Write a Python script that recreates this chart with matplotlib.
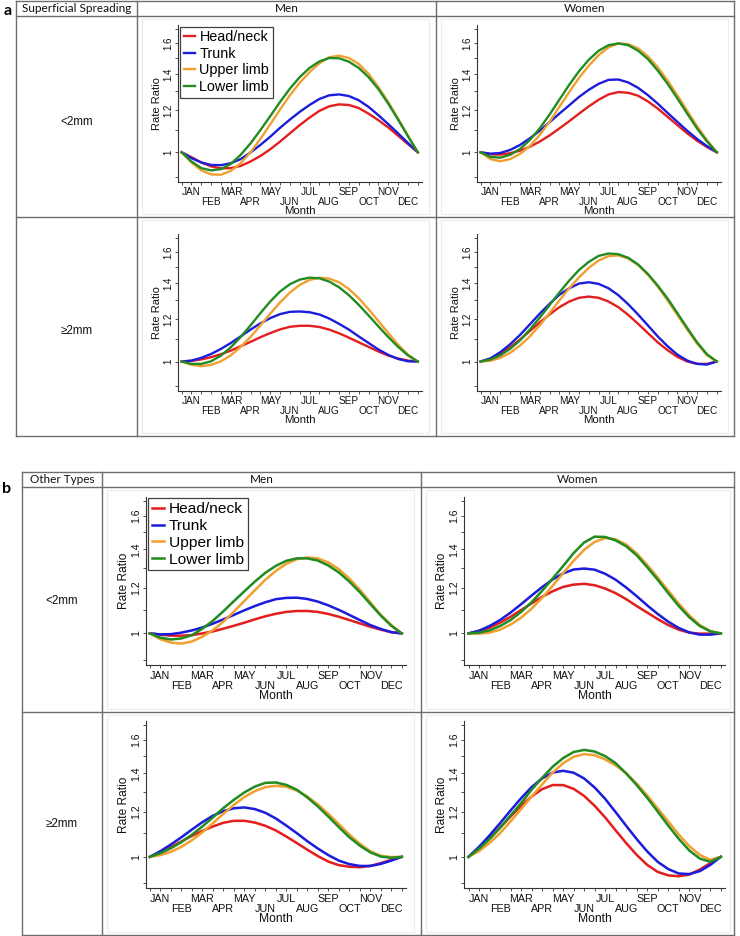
import numpy as np
import matplotlib
matplotlib.use("Agg")
import matplotlib.pyplot as plt
from matplotlib.lines import Line2D
from matplotlib.patches import Rectangle
from matplotlib.ticker import FixedLocator, FixedFormatter, NullFormatter

W, H = 740, 936

MONTHS = ["JAN", "FEB", "MAR", "APR", "MAY", "JUN",
          "JUL", "AUG", "SEP", "OCT", "NOV", "DEC"]
SITES = ["Head/neck", "Trunk", "Upper limb", "Lower limb"]
COLORS = ["#e41e1e", "#1c1cdc", "#f0a030", "#228b22"]

# values read every half month, Jan 1 -> Dec 31
MONTH_POS = np.arange(0, 12.01, 0.5)

# (a) superficial spreading, <2mm, men   rows: head/neck, trunk, upper limb, lower limb
A_LT2_MEN = [
    [1.000, 0.979, 0.957, 0.941, 0.933, 0.934, 0.943, 0.961, 0.984, 1.013, 1.047, 1.085, 1.124,
     1.161, 1.195, 1.219, 1.229, 1.226, 1.210, 1.181, 1.148, 1.113, 1.074, 1.036, 1.000],
    [1.000, 0.975, 0.957, 0.947, 0.946, 0.954, 0.971, 0.999, 1.032, 1.069, 1.111, 1.151, 1.190,
     1.226, 1.258, 1.278, 1.283, 1.274, 1.251, 1.216, 1.173, 1.129, 1.085, 1.041, 1.000],
    [1.000, 0.957, 0.925, 0.909, 0.908, 0.923, 0.954, 1.000, 1.059, 1.127, 1.202, 1.278, 1.349,
     1.412, 1.467, 1.505, 1.516, 1.501, 1.463, 1.402, 1.324, 1.242, 1.156, 1.074, 1.000],
    [1.000, 0.961, 0.934, 0.925, 0.930, 0.951, 0.989, 1.039, 1.100, 1.168, 1.242, 1.315, 1.382,
     1.438, 1.479, 1.501, 1.499, 1.477, 1.438, 1.382, 1.313, 1.233, 1.151, 1.072, 1.000],
]
A_LT2_WOMEN = [
    [1.000, 0.991, 0.990, 0.996, 1.007, 1.024, 1.047, 1.075, 1.108, 1.143, 1.181, 1.219, 1.254,
     1.283, 1.296, 1.292, 1.276, 1.245, 1.207, 1.165, 1.124, 1.085, 1.051, 1.023, 1.000],
    [1.000, 0.994, 0.997, 1.010, 1.032, 1.062, 1.097, 1.138, 1.181, 1.224, 1.269, 1.309, 1.343,
     1.366, 1.368, 1.351, 1.320, 1.279, 1.233, 1.185, 1.140, 1.097, 1.059, 1.027, 1.000],
    [1.000, 0.971, 0.962, 0.971, 0.993, 1.027, 1.077, 1.140, 1.216, 1.296, 1.378, 1.452, 1.520,
     1.571, 1.598, 1.593, 1.564, 1.512, 1.442, 1.362, 1.278, 1.195, 1.119, 1.054, 1.000],
    [1.000, 0.980, 0.977, 0.989, 1.014, 1.054, 1.108, 1.176, 1.254, 1.337, 1.418, 1.490, 1.549,
     1.586, 1.598, 1.586, 1.549, 1.494, 1.422, 1.343, 1.261, 1.181, 1.108, 1.048, 1.000],
]
A_GE2_MEN = [
    [1.000, 1.003, 1.009, 1.019, 1.032, 1.048, 1.068, 1.088, 1.110, 1.130, 1.148, 1.161, 1.166,
     1.166, 1.160, 1.147, 1.129, 1.108, 1.086, 1.065, 1.044, 1.026, 1.013, 1.004, 1.000],
    [1.000, 1.004, 1.016, 1.033, 1.056, 1.083, 1.114, 1.147, 1.178, 1.205, 1.226, 1.238, 1.240,
     1.236, 1.224, 1.203, 1.176, 1.147, 1.114, 1.083, 1.053, 1.029, 1.011, 1.001, 1.000],
    [1.000, 0.986, 0.980, 0.986, 1.001, 1.027, 1.065, 1.111, 1.168, 1.228, 1.289, 1.345, 1.390,
     1.420, 1.434, 1.428, 1.406, 1.366, 1.313, 1.252, 1.190, 1.130, 1.075, 1.030, 1.000],
    [1.000, 0.990, 0.990, 1.001, 1.026, 1.063, 1.111, 1.168, 1.231, 1.294, 1.351, 1.394, 1.422,
     1.434, 1.430, 1.410, 1.376, 1.330, 1.276, 1.219, 1.163, 1.111, 1.065, 1.027, 1.000],
]
A_GE2_WOMEN = [
    [1.000, 1.011, 1.033, 1.063, 1.099, 1.140, 1.183, 1.224, 1.263, 1.294, 1.315, 1.322, 1.315,
     1.294, 1.263, 1.222, 1.176, 1.130, 1.086, 1.050, 1.020, 1.000, 0.990, 0.990, 1.000],
    [1.000, 1.014, 1.041, 1.077, 1.121, 1.173, 1.228, 1.281, 1.332, 1.370, 1.398, 1.406, 1.396,
     1.370, 1.330, 1.279, 1.224, 1.168, 1.114, 1.068, 1.030, 1.004, 0.990, 0.987, 1.000],
    [1.000, 1.003, 1.016, 1.038, 1.071, 1.114, 1.168, 1.231, 1.300, 1.370, 1.436, 1.496, 1.544,
     1.573, 1.578, 1.557, 1.514, 1.452, 1.380, 1.300, 1.221, 1.147, 1.080, 1.027, 1.000],
    [1.000, 1.009, 1.027, 1.056, 1.095, 1.147, 1.207, 1.274, 1.345, 1.416, 1.482, 1.535, 1.575,
     1.591, 1.586, 1.562, 1.518, 1.457, 1.386, 1.311, 1.231, 1.155, 1.086, 1.032, 1.000],
]

# (b) other types
B_LT2_MEN = [
    [1.000, 0.995, 0.991, 0.991, 0.993, 1.000, 1.008, 1.019, 1.031, 1.044, 1.058, 1.071, 1.082,
     1.090, 1.094, 1.094, 1.090, 1.081, 1.069, 1.055, 1.041, 1.027, 1.015, 1.005, 1.000],
    [1.000, 0.996, 0.997, 1.003, 1.012, 1.024, 1.040, 1.058, 1.077, 1.097, 1.116, 1.133, 1.147,
     1.153, 1.154, 1.148, 1.136, 1.119, 1.099, 1.077, 1.055, 1.034, 1.018, 1.005, 1.000],
    [1.000, 0.977, 0.964, 0.960, 0.968, 0.987, 1.013, 1.048, 1.091, 1.139, 1.189, 1.240, 1.285,
     1.322, 1.347, 1.356, 1.351, 1.329, 1.294, 1.246, 1.191, 1.133, 1.077, 1.034, 1.000],
    [1.000, 0.983, 0.976, 0.980, 0.993, 1.019, 1.052, 1.093, 1.138, 1.184, 1.231, 1.275, 1.311,
     1.338, 1.351, 1.351, 1.339, 1.313, 1.277, 1.231, 1.180, 1.125, 1.074, 1.031, 1.000],
]
B_LT2_WOMEN = [
    [1.000, 1.008, 1.023, 1.044, 1.069, 1.098, 1.128, 1.158, 1.184, 1.205, 1.216, 1.220, 1.213,
     1.197, 1.175, 1.147, 1.116, 1.087, 1.059, 1.034, 1.015, 1.003, 0.999, 0.999, 1.000],
    [1.000, 1.011, 1.030, 1.055, 1.087, 1.124, 1.164, 1.204, 1.241, 1.272, 1.292, 1.297, 1.291,
     1.270, 1.240, 1.202, 1.161, 1.119, 1.081, 1.048, 1.022, 1.004, 0.995, 0.995, 1.000],
    [1.000, 0.999, 1.003, 1.015, 1.036, 1.065, 1.104, 1.153, 1.210, 1.273, 1.338, 1.398, 1.443,
     1.466, 1.458, 1.428, 1.378, 1.316, 1.251, 1.187, 1.127, 1.075, 1.034, 1.010, 1.000],
    [1.000, 1.003, 1.012, 1.030, 1.055, 1.090, 1.133, 1.186, 1.246, 1.310, 1.380, 1.440, 1.474,
     1.472, 1.452, 1.418, 1.368, 1.304, 1.240, 1.175, 1.116, 1.067, 1.030, 1.008, 1.000],
]
B_GE2_MEN = [
    [1.000, 1.018, 1.040, 1.064, 1.088, 1.110, 1.130, 1.147, 1.156, 1.156, 1.148, 1.133, 1.112,
     1.085, 1.057, 1.029, 1.003, 0.981, 0.967, 0.961, 0.959, 0.964, 0.975, 0.988, 1.000],
    [1.000, 1.023, 1.051, 1.082, 1.116, 1.150, 1.180, 1.202, 1.216, 1.220, 1.212, 1.194, 1.167,
     1.134, 1.100, 1.065, 1.034, 1.007, 0.985, 0.971, 0.964, 0.964, 0.972, 0.985, 1.000],
    [1.000, 1.007, 1.020, 1.041, 1.069, 1.104, 1.145, 1.189, 1.233, 1.272, 1.303, 1.324, 1.331,
     1.326, 1.306, 1.275, 1.235, 1.189, 1.141, 1.094, 1.054, 1.023, 1.004, 0.999, 1.000],
    [1.000, 1.015, 1.035, 1.061, 1.093, 1.130, 1.172, 1.217, 1.258, 1.296, 1.327, 1.347, 1.349,
     1.336, 1.310, 1.270, 1.225, 1.176, 1.127, 1.082, 1.046, 1.018, 1.001, 0.996, 1.000],
]
B_GE2_WOMEN = [
    [1.000, 1.036, 1.078, 1.125, 1.176, 1.228, 1.275, 1.313, 1.335, 1.335, 1.315, 1.278, 1.228,
     1.172, 1.112, 1.057, 1.008, 0.968, 0.941, 0.928, 0.925, 0.931, 0.950, 0.975, 1.000],
    [1.000, 1.041, 1.090, 1.145, 1.205, 1.266, 1.324, 1.371, 1.404, 1.414, 1.403, 1.371, 1.322,
     1.263, 1.197, 1.133, 1.074, 1.022, 0.980, 0.952, 0.935, 0.933, 0.944, 0.968, 1.000],
    [1.000, 1.023, 1.057, 1.100, 1.153, 1.212, 1.275, 1.338, 1.404, 1.458, 1.496, 1.512, 1.506,
     1.480, 1.445, 1.400, 1.343, 1.281, 1.215, 1.153, 1.094, 1.044, 1.008, 0.988, 1.000],
    [1.000, 1.033, 1.074, 1.124, 1.181, 1.241, 1.310, 1.374, 1.437, 1.488, 1.525, 1.538, 1.528,
     1.500, 1.458, 1.399, 1.335, 1.268, 1.200, 1.134, 1.075, 1.026, 0.993, 0.980, 1.000],
]

PLOT_FONT = "Liberation Sans"
TABLE_FONT = "Lato"
LINE_COL = "#6e6e6e"
AXIS_COL = "#333333"

fig = plt.figure(figsize=(W / 100, H / 100), dpi=100)
fig.patch.set_facecolor("white")


def rect(x0, y0, x1, y1):
    return [x0 / W, 1 - y1 / H, (x1 - x0) / W, (y1 - y0) / H]


def hline(x0, x1, y, color=LINE_COL, lw=1.0):
    fig.add_artist(Line2D([x0 / W, x1 / W], [1 - y / H, 1 - y / H],
                          transform=fig.transFigure, color=color, lw=lw))


def vline(x, y0, y1, color=LINE_COL, lw=1.0):
    fig.add_artist(Line2D([x / W, x / W], [1 - y0 / H, 1 - y1 / H],
                          transform=fig.transFigure, color=color, lw=lw))


def faint_box(x0, y0, x1, y1):
    fig.add_artist(Rectangle((x0 / W, 1 - y1 / H), (x1 - x0) / W, (y1 - y0) / H,
                             transform=fig.transFigure, fill=False,
                             edgecolor="#ececec", lw=0.8))


def draw_plot(box, series, s=1.0, legend=False):
    ax = fig.add_axes(rect(*box))
    for vals, col, lab in zip(series, COLORS, SITES):
        ax.plot(MONTH_POS, vals, color=col, lw=1.7 * s, label=lab)
    ax.set_yscale("log")
    ax.set_xlim(-0.2, 12.2)
    ax.set_ylim(0.881, 1.73)

    ax.yaxis.set_major_locator(FixedLocator([1, 1.2, 1.4, 1.6]))
    ax.yaxis.set_major_formatter(FixedFormatter(["1", "1.2", "1.4", "1.6"]))
    ax.yaxis.set_minor_locator(FixedLocator([0.9, 1.1, 1.3, 1.5, 1.7]))
    ax.yaxis.set_minor_formatter(NullFormatter())

    labels = []
    for i, p in enumerate(MONTH_POS):
        if i % 2 == 0:
            labels.append("")
        else:
            m = i // 2
            labels.append(MONTHS[m] if m % 2 == 0 else "\n" + MONTHS[m])
    ax.xaxis.set_major_locator(FixedLocator(MONTH_POS))
    ax.xaxis.set_major_formatter(FixedFormatter(labels))
    ax.xaxis.set_minor_locator(FixedLocator([]))

    for sp in ["top", "right"]:
        ax.spines[sp].set_visible(False)
    for sp in ["left", "bottom"]:
        ax.spines[sp].set_color(AXIS_COL)
        ax.spines[sp].set_linewidth(0.8)

    ax.tick_params(which="both", direction="out", length=2.2 * s, width=0.6,
                   color=AXIS_COL)
    ax.tick_params(axis="x", labelsize=7.2 * s, pad=1.6 * s, labelcolor="#111111")
    ax.tick_params(axis="y", labelsize=7.0 * s, pad=1.0, labelrotation=90,
                   labelcolor="#111111")
    for t in ax.get_xticklabels():
        t.set_family(PLOT_FONT)
        t.set_linespacing(1.0)
    for t in ax.get_yticklabels():
        t.set_family(PLOT_FONT)
        t.set_va("center")

    ax.set_xlabel("Month", family=PLOT_FONT, fontsize=8.2 * s, labelpad=-0.6,
                  color="#111111")
    ax.set_ylabel("Rate Ratio", family=PLOT_FONT, fontsize=8.0 * s, labelpad=1,
                  color="#111111")

    if legend:
        leg = ax.legend(loc="upper left", bbox_to_anchor=(0.009, 0.99),
                        borderaxespad=0, prop={"family": PLOT_FONT, "size": 10.4 * s},
                        handlelength=0.8, handletextpad=0.3, labelspacing=0.18,
                        borderpad=0.25, fancybox=False, framealpha=1,
                        edgecolor="#404040")
        leg.get_frame().set_linewidth(0.9)
    return ax


def table_text(x, y, txt, size=8.5, family=TABLE_FONT, **kw):
    fig.text(x / W, 1 - y / H, txt, ha="center", va="center", fontsize=size,
             family=family, color="#111111", **kw)


# ---------------- panel a ----------------
ax0, ax1, ax2, ax3 = 16, 137, 436, 734
ay0, ay_h, ay_m, ay1 = 1, 16, 217, 436

faint_box(141.7, 19, 429, 214)
faint_box(440.7, 19, 728, 214)
faint_box(141.7, 220, 429, 433)
faint_box(440.7, 220, 728, 433)

hline(ax0, ax3, ay0)
hline(ax0, ax3, ay_h)
hline(ax0, ax3, ay_m)
hline(ax0, ax3, ay1)
vline(ax0, ay0, ay1)
vline(ax1, ay0, ay1)
vline(ax2, ay0, ay1)
vline(ax3, ay0, ay1)

fig.text(7.5 / W, 1 - 11 / H, "a", ha="center", va="center", fontsize=11.5,
         family=TABLE_FONT, fontweight="bold")
table_text((ax0 + ax1) / 2, 9, "Superficial Spreading")
table_text((ax1 + ax2) / 2, 9, "Men")
table_text((ax2 + ax3) / 2, 9, "Women")
table_text(76.5, 122, "<2mm", size=8.4, family=PLOT_FONT)
table_text(76.5, 331, "\u22652mm", size=8.4, family=PLOT_FONT)

draw_plot((177.7, 25, 421.7, 181.7), A_LT2_MEN, legend=True)
draw_plot((476.7, 25, 720.7, 181.7), A_LT2_WOMEN)
draw_plot((177.7, 234, 421.7, 391), A_GE2_MEN)
draw_plot((476.7, 234, 720.7, 391), A_GE2_WOMEN)

# ---------------- panel b ----------------
bx0, bx1, bx2, bx3 = 22, 102, 421, 734
by0, by_h, by_m, by1 = 472, 487, 712, 935

faint_box(107, 490, 414, 709)
faint_box(426, 490, 730, 709)
faint_box(107, 715, 414, 932)
faint_box(426, 715, 730, 932)

hline(bx0, bx3, by0)
hline(bx0, bx3, by_h)
hline(bx0, bx3, by_m)
hline(bx0, bx3, by1)
vline(bx0, by0, by1)
vline(bx1, by0, by1)
vline(bx2, by0, by1)
vline(bx3, by0, by1)

fig.text(6.7 / W, 1 - 489 / H, "b", ha="center", va="center", fontsize=11.5,
         family=TABLE_FONT, fontweight="bold")
table_text((bx0 + bx1) / 2, 480, "Other Types")
table_text((bx1 + bx2) / 2, 480, "Men")
table_text((bx2 + bx3) / 2, 480, "Women")
table_text(62, 601, "<2mm", size=8.4, family=PLOT_FONT)
table_text(62, 824, "\u22652mm", size=8.4, family=PLOT_FONT)

SB = 1.07
draw_plot((145.7, 496.7, 406, 665), B_LT2_MEN, s=SB, legend=True)
draw_plot((464.3, 496.7, 725, 665), B_LT2_WOMEN, s=SB)
draw_plot((145.7, 720.7, 406, 888.3), B_GE2_MEN, s=SB)
draw_plot((464.3, 720.7, 725, 888.3), B_GE2_WOMEN, s=SB)

fig.savefig("out.png", dpi=100, facecolor="white")
